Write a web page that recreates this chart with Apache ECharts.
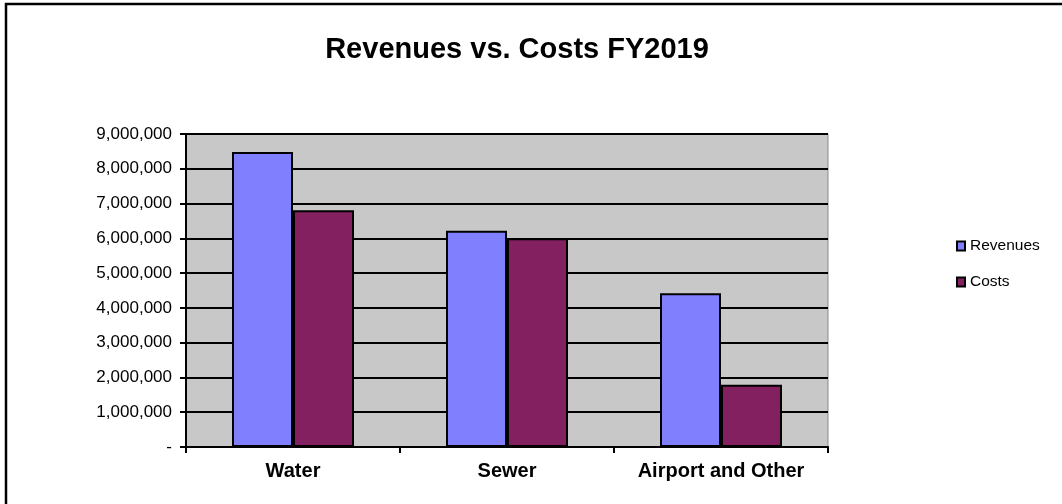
<!DOCTYPE html>
<html><head><meta charset="utf-8">
<script src="https://cdn.jsdelivr.net/npm/echarts@6/dist/echarts.min.js"></script>
<style>html,body{margin:0;padding:0;background:#fff}#c{width:1062px;height:504px}</style>
</head><body><div id="c"></div>
<script>
const titleText = 'Revenues vs. Costs FY2019';
const categories = ['Water', 'Sewer', 'Airport and Other'];
const seriesNames = ['Revenues', 'Costs'];
const revenues = [8480000, 6220000, 4420000];
const costs = [6810000, 6000000, 1790000];
const yMin = 0, yMax = 9000000, yStep = 1000000;

const chart = echarts.init(document.getElementById('c'), null, {renderer: 'canvas'});
const fmt = v => v === 0 ? '-' : v.toLocaleString('en-US');
chart.setOption({
  animation: false,
  backgroundColor: '#fff',
  title: {
    text: titleText, left: 512, top: 30, textAlign: 'center',
    textStyle: {fontFamily: 'Liberation Sans, Arial', fontWeight: 'bold', fontSize: 29, color: '#000'}
  },
  graphic: [{
    type: 'rect', shape: {x: 6, y: 4, width: 1070, height: 510},
    style: {fill: 'none', stroke: '#000', lineWidth: 2.5}, silent: true, z: 100
  }],
  legend: {
    orient: 'vertical', left: 951, top: 233, itemGap: 20,
    itemWidth: 8, itemHeight: 9, icon: 'rect',
    textStyle: {fontFamily: 'Liberation Sans, Arial', fontSize: 15.5, color: '#000'},
    data: seriesNames
  },
  grid: {left: 186, right: 234, top: 134, bottom: 57, show: true, backgroundColor: '#c8c8c8', borderColor: '#8a8a8a', borderWidth: 1},
  xAxis: {
    type: 'category', data: categories,
    axisLine: {lineStyle: {color: '#000', width: 2}},
    axisTick: {show: true, length: 6, lineStyle: {color: '#000', width: 2}},
    axisLabel: {interval: 0, hideOverlap: false, fontFamily: 'Liberation Sans, Arial', fontWeight: 'bold', fontSize: 20, color: '#000', margin: 14}
  },
  yAxis: {
    type: 'value', min: yMin, max: yMax, interval: yStep,
    axisLine: {show: true, lineStyle: {color: '#000', width: 2}},
    axisTick: {show: true, length: 6, lineStyle: {color: '#000', width: 2}},
    splitLine: {lineStyle: {color: '#000', width: 2}},
    axisLabel: {formatter: fmt, fontFamily: 'Liberation Sans, Arial', fontSize: 17, color: '#000', margin: 14}
  },
  series: [
    {name: seriesNames[0], type: 'bar', data: revenues, barWidth: 61, barGap: '0%',
     itemStyle: {color: '#8080ff', borderColor: '#000', borderWidth: 2}},
    {name: seriesNames[1], type: 'bar', data: costs, barWidth: 61,
     itemStyle: {color: '#822060', borderColor: '#000', borderWidth: 2}}
  ]
});
</script></body></html>
